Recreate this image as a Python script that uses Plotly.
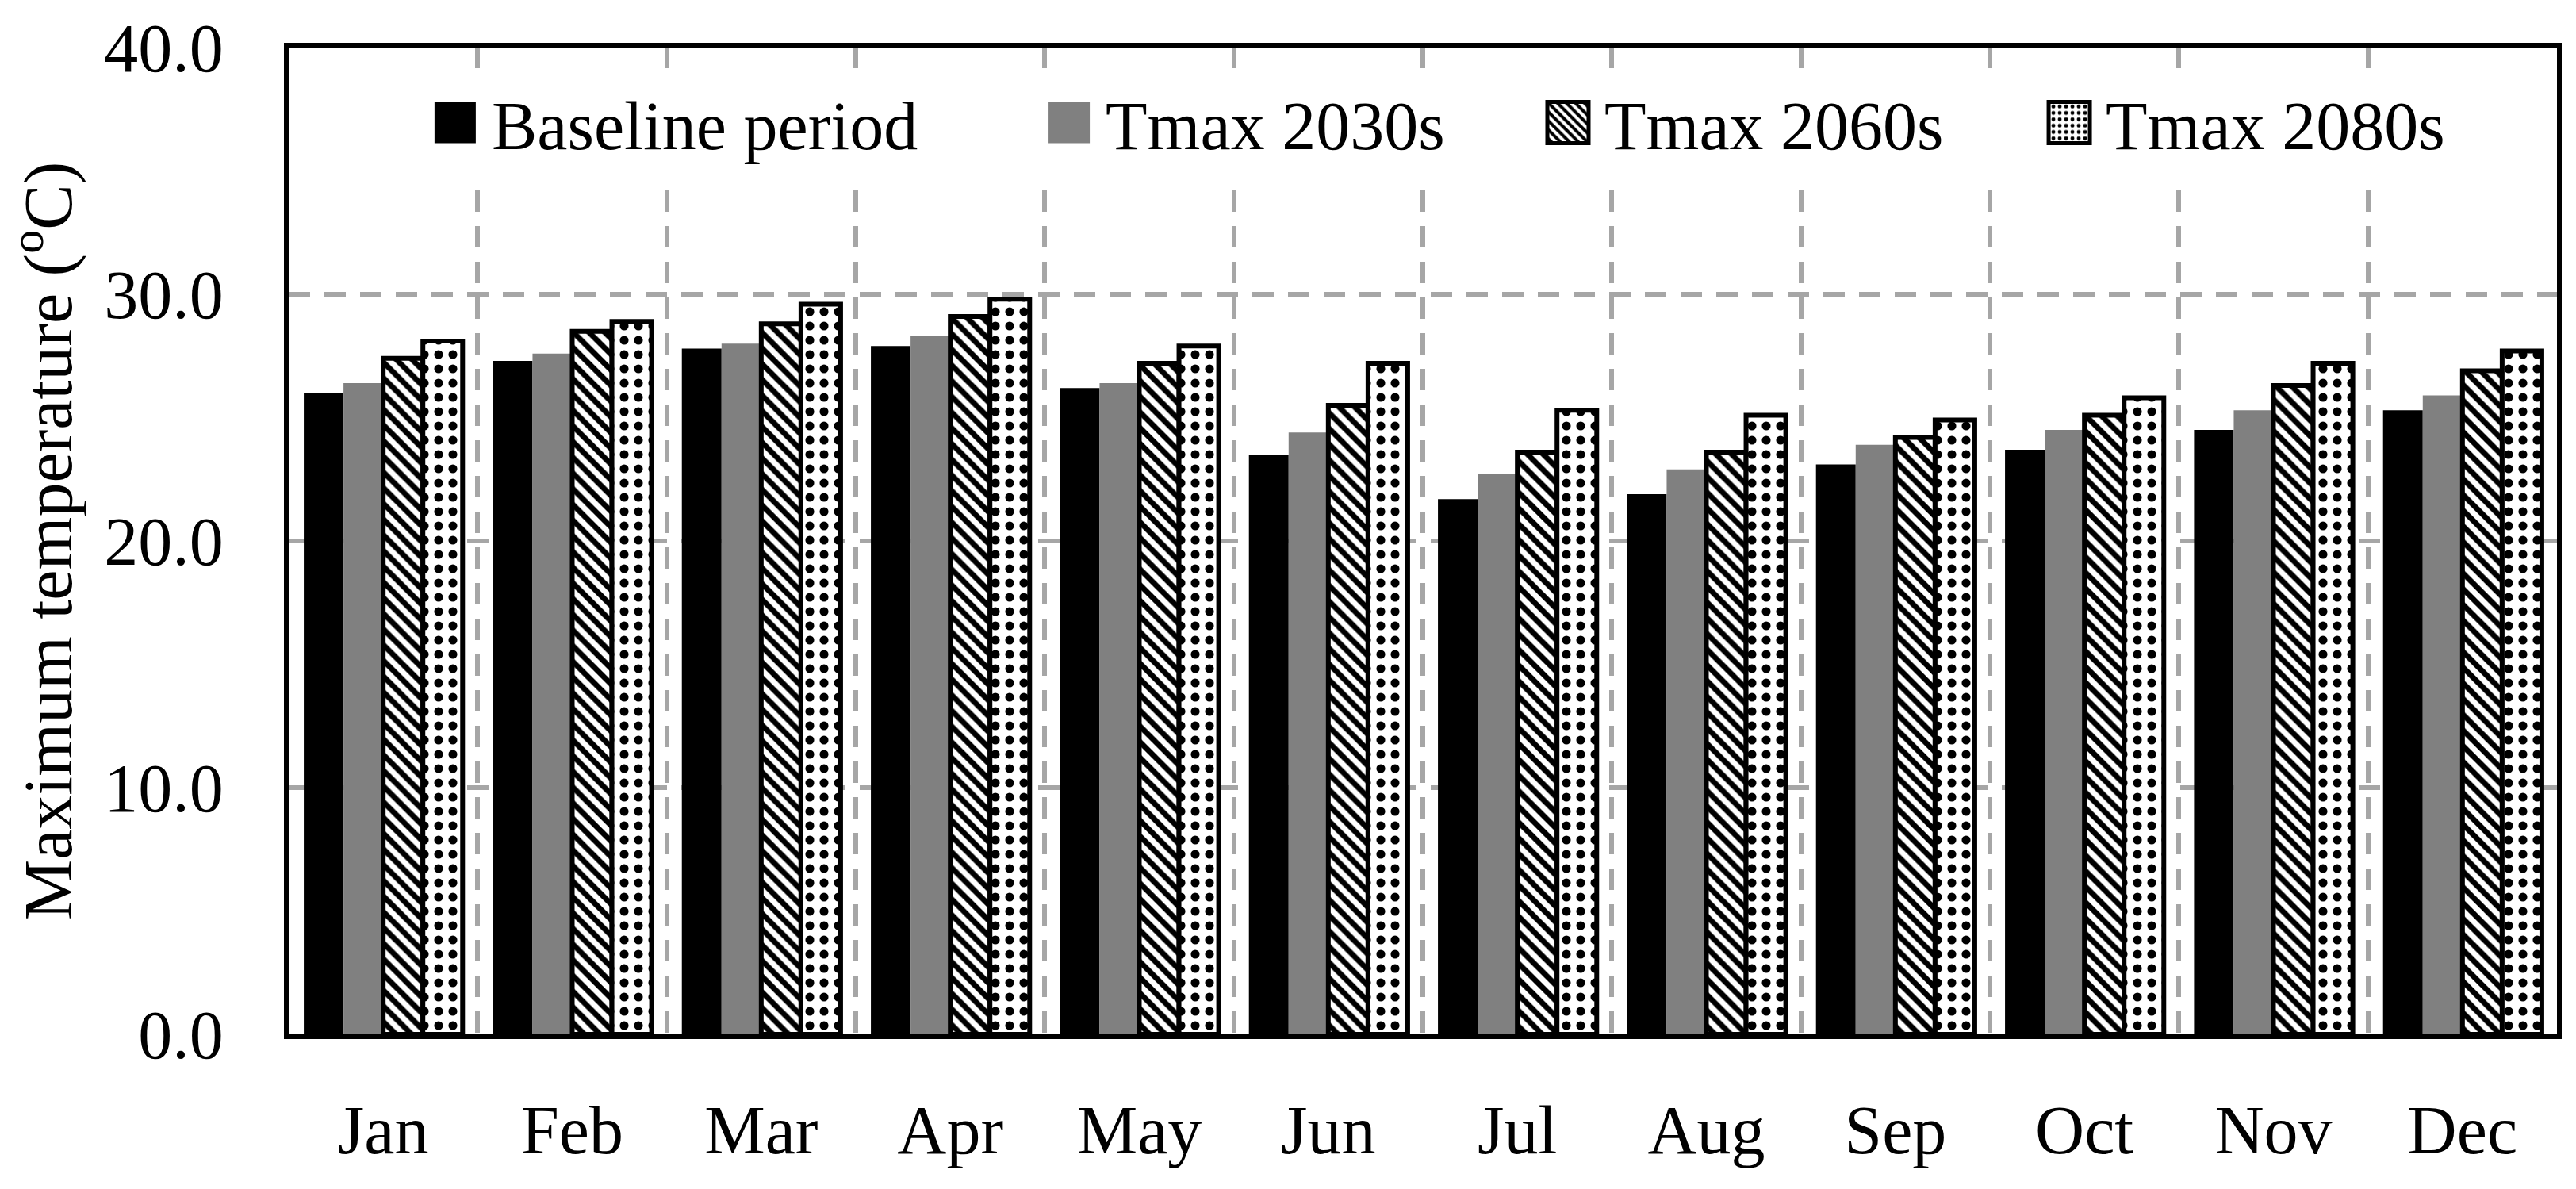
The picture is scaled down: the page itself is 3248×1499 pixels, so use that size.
import plotly.graph_objects as go

months = ["Jan", "Feb", "Mar", "Apr", "May", "Jun", "Jul", "Aug", "Sep", "Oct", "Nov", "Dec"]
baseline = [26.0, 27.3, 27.8, 27.9, 26.2, 23.5, 21.7, 21.9, 23.1, 23.7, 24.5, 25.3]
tmax_2030s = [26.4, 27.6, 28.0, 28.3, 26.4, 24.4, 22.7, 22.9, 23.9, 24.5, 25.3, 25.9]
tmax_2060s = [27.4, 28.5, 28.8, 29.1, 27.2, 25.5, 23.6, 23.6, 24.2, 25.1, 26.3, 26.9]
tmax_2080s = [28.1, 28.9, 29.6, 29.8, 27.9, 27.2, 25.3, 25.1, 24.9, 25.8, 27.2, 27.7]
series_names = ["Baseline period", "Tmax 2030s", "Tmax 2060s", "Tmax 2080s"]
y_title = "Maximum temperature (<sup>o</sup>C)"

FONT = "Liberation Serif"
FS = 86
GRID = "#A6A6A6"

fig = go.Figure()
fig.add_trace(go.Bar(x=months, y=baseline, name=series_names[0],
                     marker=dict(color="black", line=dict(width=0)), legend="legend"))
fig.add_trace(go.Bar(x=months, y=tmax_2030s, name=series_names[1],
                     marker=dict(color="#808080", line=dict(width=0)), legend="legend2"))
fig.add_trace(go.Bar(x=months, y=tmax_2060s, name=series_names[2],
                     marker=dict(color="white", line=dict(width=6, color="black"),
                                 pattern=dict(shape="\\", fgcolor="black", bgcolor="white",
                                              size=14, solidity=0.5, fillmode="replace")),
                     legend="legend3"))
fig.add_trace(go.Bar(x=months, y=tmax_2080s, name=series_names[3],
                     marker=dict(color="white", line=dict(width=6, color="black"),
                                 pattern=dict(shape=".", fgcolor="black", bgcolor="white",
                                              size=18, solidity=0.3, fillmode="replace")),
                     legend="legend4"))

def leg(x):
    return dict(x=x, y=0.924, xanchor="left", yanchor="middle", orientation="h",
                bgcolor="rgba(0,0,0,0)", borderwidth=0, itemwidth=82,
                font=dict(family=FONT, size=FS, color="black"))

fig.update_layout(
    width=3248, height=1499,
    margin=dict(l=364, r=24, t=60, b=195, autoexpand=False),
    plot_bgcolor="white", paper_bgcolor="white",
    font=dict(family=FONT, size=FS, color="black"),
    barmode="group", bargap=0.16, bargroupgap=0,
    showlegend=True,
    legend=leg(0.0573), legend2=leg(0.328), legend3=leg(0.5479), legend4=leg(0.7689),
    shapes=[dict(type="rect", xref="paper", yref="paper", x0=0.055, x1=0.96,
                 y0=0.8698, y1=0.979, fillcolor="white", line=dict(width=0), layer="above")],
)
fig.update_xaxes(type="category", tickson="boundaries", showgrid=True, gridcolor=GRID,
                 gridwidth=6, griddash="27px,18px", showline=True, mirror=True,
                 linecolor="black", linewidth=6, ticks="", ticklabelstandoff=41,
                 tickfont=dict(family=FONT, size=FS, color="black"), automargin=False)
fig.update_yaxes(range=[0, 40], tick0=0, dtick=10, tickformat=".1f", showgrid=True,
                 gridcolor=GRID, gridwidth=6, griddash="27px,18px", zeroline=False,
                 showline=True, mirror=True, linecolor="black", linewidth=6, ticks="",
                 ticklabelstandoff=59, tickfont=dict(family=FONT, size=FS, color="black"),
                 title=dict(text=y_title, font=dict(family=FONT, size=FS, color="black"), standoff=57),
                 automargin=False)

post = """
document.body.style.margin='0';
document.body.style.overflow='hidden';
var gd = document.getElementById('{plot_id}');
function bigLegend(){
  document.querySelectorAll('.legendpoints path').forEach(function(p){
    p.setAttribute('d','M26,26H-26V-26H26Z');
  });
}
bigLegend();
if (gd && gd.on) { gd.on('plotly_afterplot', bigLegend); }
[10, 50, 150, 400, 1000].forEach(function(t){ setTimeout(bigLegend, t); });
"""
fig.write_html("out.html", post_script=post, config={"displayModeBar": False})
